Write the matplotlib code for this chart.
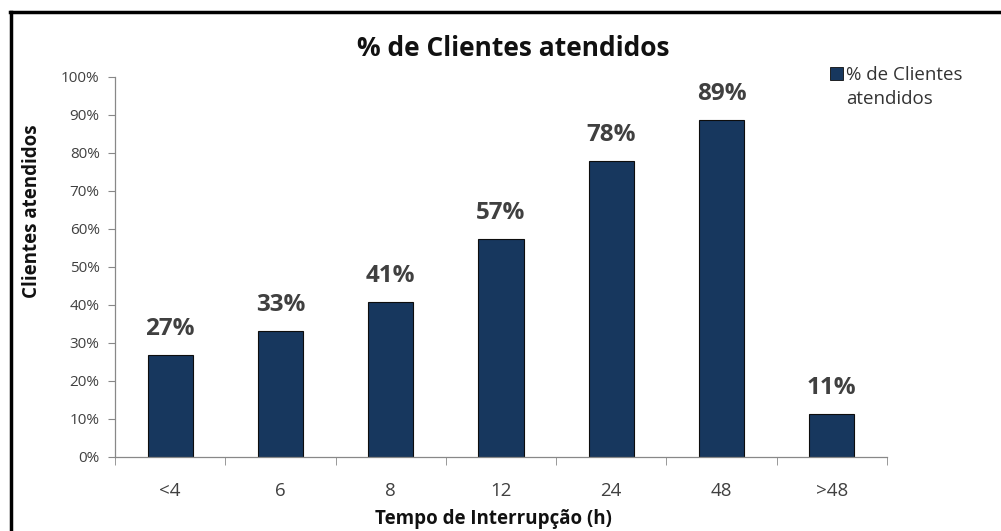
import matplotlib.pyplot as plt
from matplotlib.lines import Line2D
from matplotlib.patches import Rectangle
import numpy as np

# Dados

categorias = ["<4", "6", "8", "12", "24", "48", ">48"]
clientes_atendidos = [0.268, 0.332, 0.407, 0.574, 0.779, 0.886, 0.114]
ticks_y = [0.0, 0.1, 0.2, 0.3, 0.4, 0.5, 0.6, 0.7, 0.8, 0.9, 1.0]

BAR_COLOR = "#17375e"
TEXT_COLOR = "#404040"
SPINE_COLOR = "#888888"

plt.rcParams["font.family"] = ["Open Sans", "DejaVu Sans"]

fig = plt.figure(figsize=(10.01, 5.31), dpi=100)
ax = fig.add_axes([0.1149, 0.1394, 0.7711, 0.7156])

x = np.arange(len(categorias))
bars = ax.bar(x, clientes_atendidos, width=0.41, color=BAR_COLOR,
              edgecolor="#0d0d0d", linewidth=0.8)

for rect, valor in zip(bars, clientes_atendidos):
    ax.annotate(f"{round(valor * 100):.0f}%",
                xy=(rect.get_x() + rect.get_width() / 2, valor),
                xytext=(0, 10), textcoords="offset points",
                ha="center", va="bottom", fontsize=17.5, fontweight="bold",
                color=TEXT_COLOR)

ax.set_xlim(-0.5, len(categorias) - 0.5)
ax.set_ylim(0, 1.0)
ax.set_yticks(ticks_y)
ax.set_yticklabels([f"{t * 100:.0f}%" for t in ticks_y])
ax.set_xticks(x)
ax.set_xticklabels(categorias)
ax.set_xticks(np.arange(-0.5, len(categorias)), minor=True)

ax.tick_params(axis="y", length=5, color=SPINE_COLOR, labelsize=11,
               labelcolor=TEXT_COLOR, pad=6)
ax.tick_params(axis="x", which="major", length=0, labelsize=13.5,
               labelcolor=TEXT_COLOR, pad=18)
ax.tick_params(axis="x", which="minor", length=6, color=SPINE_COLOR)

for side in ["top", "right"]:
    ax.spines[side].set_visible(False)
for side in ["left", "bottom"]:
    ax.spines[side].set_color(SPINE_COLOR)
    ax.spines[side].set_linewidth(0.9)

# Textos
fig.text(0.513, 0.908, "% de Clientes atendidos", ha="center", va="center",
         fontsize=19, fontweight="bold", color="#111111")
fig.text(0.032, 0.603, "Clientes atendidos", rotation=90, ha="center",
         va="center", fontsize=13.5, fontweight="bold", color="#111111")
fig.text(0.493, 0.022, "Tempo de Interrupção (h)", ha="center",
         va="center", fontsize=13.5, fontweight="bold", color="#111111")

# Legenda
fig.patches.append(Rectangle((0.829, 0.849), 0.013, 0.0245,
                             transform=fig.transFigure, facecolor=BAR_COLOR,
                             edgecolor="#0d0d0d", linewidth=0.6))
fig.text(0.845, 0.836, "% de Clientes\natendidos", ha="left", va="center",
         fontsize=13.5, color="#333333", linespacing=1.4)

# Moldura
fig.add_artist(Line2D([0.010, 1.0], [0.977, 0.977], color="black",
                      linewidth=2.5, transform=fig.transFigure))
fig.add_artist(Line2D([0.011, 0.011], [0.0, 0.977], color="black",
                      linewidth=2.5, transform=fig.transFigure))

fig.savefig("out.png", dpi=100, facecolor="white")
